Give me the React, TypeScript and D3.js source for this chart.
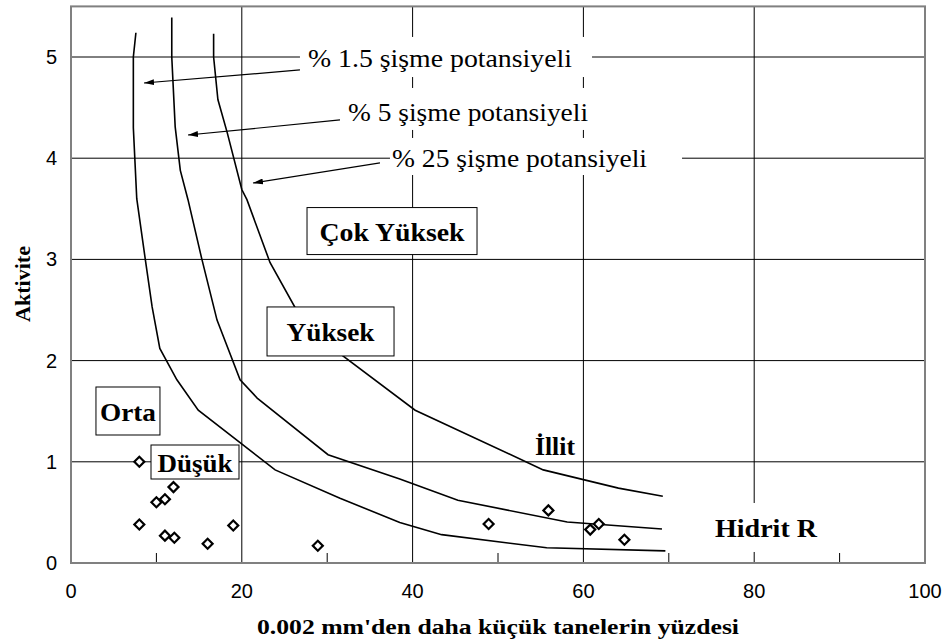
import React from 'react';
import * as d3 from 'd3';

// ---- axis ticks ----
const xTicks = [0, 20, 40, 60, 80, 100];
const xMinorTicks = [10, 30, 50, 70, 90];
const yTicks = [0, 1, 2, 3, 4, 5];

// ---- swell potential curves ----
const curve15X = [7.6, 7.3, 7.3, 7.7, 8.7, 9.5, 10.4, 12.4, 14.9, 23.9, 31.5, 38.5, 43.4, 55.7, 69.6];
const curve15Y = [5.24, 5.0, 4.3, 3.6, 3.0, 2.53, 2.12, 1.81, 1.51, 0.92, 0.64, 0.4, 0.28, 0.15, 0.12];

const curve5X = [11.8, 11.8, 12.2, 12.8, 13.7, 15.3, 17.1, 19.8, 21.8, 30.1, 38.5, 45.3, 58.1, 69.2];
const curve5Y = [5.39, 5.0, 4.31, 3.88, 3.59, 3.01, 2.4, 1.81, 1.63, 1.07, 0.83, 0.62, 0.405, 0.336];

const curve25X = [16.7, 16.7, 17.2, 18.3, 20.0, 20.6, 23.3, 26.2, 31.8, 40.3, 55.3, 64.1, 69.3];
const curve25Y = [5.23, 5.0, 4.58, 4.25, 3.69, 3.59, 2.97, 2.53, 2.05, 1.51, 0.92, 0.74, 0.66];

// ---- soil samples ----
const sampleX = [8, 12, 11, 10, 8, 11, 12.1, 16, 19, 28.9, 48.9, 55.9, 60.8, 61.8, 64.8];
const sampleY = [1.0, 0.75, 0.63, 0.6, 0.38, 0.27, 0.25, 0.19, 0.37, 0.17, 0.385, 0.52, 0.33, 0.385, 0.23];

// ---- texts ----
const xTitle = "0.002 mm'den daha küçük tanelerin yüzdesi";
const yTitle = 'Aktivite';
const calloutTexts = ['% 1.5 şişme potansiyeli', '% 5 şişme potansiyeli', '% 25 şişme potansiyeli'];
const regionTexts = ['Çok Yüksek', 'Yüksek', 'Orta', 'Düşük'];
const freeTexts = ['İllit', 'Hidrit R'];

// ---- annotation layout (data coords for anchors, px for sizes) ----
const calloutLayout = [
  { tx: 27.75, ty: 4.901, tl: 264, bx0: 26.81, bx1: 61.01, by0: 5.198, by1: 4.802, ax0: 26.81, ay0: 4.872, ax1: 8.55, ay1: 4.743 },
  { tx: 32.44, ty: 4.368, tl: 240, bx0: 31.5, bx1: 61.48, by0: 4.694, by1: 4.279, ax0: 31.5, ay0: 4.378, ax1: 13.7, ay1: 4.229 },
  { tx: 37.59, ty: 3.913, tl: 255, bx0: 37.35, bx1: 71.55, by0: 4.2, by1: 3.834, ax0: 36.18, ay0: 3.953, ax1: 21.31, ay1: 3.755 },
];
const regionLayout = [
  { cx: 37.59, cy: 3.28, w: 170, h: 47, tl: 145 },
  { cx: 30.39, cy: 2.288, w: 127, h: 49, tl: 88 },
  { cx: 6.67, cy: 1.502, w: 64, h: 48, tl: 56 },
  { cx: 14.52, cy: 0.998, w: 88, h: 34, tl: 75 },
];
const freeLayout = [
  { cx: 56.67, by: 1.067, tl: 40, box: null as null | { w: number; h: number; cy: number } },
  { cx: 81.38, by: 0.257, tl: 102, box: { w: 122, h: 49, cy: 0.351 } },
];

const W = 946;
const H = 644;
const SERIF = '"Liberation Serif", "Times New Roman", Times, serif';
const SANS = '"Liberation Sans", Arial, Helvetica, sans-serif';

export default function App() {
  const x = d3.scaleLinear().domain([0, 100]).range([71, 925]);
  const y = d3.scaleLinear().domain([0, 5.5]).range([563, 6.4]);

  const line = d3
    .line<[number, number]>()
    .x((d) => x(d[0]))
    .y((d) => y(d[1]));

  const curves = [
    d3.zip(curve15X, curve15Y) as [number, number][],
    d3.zip(curve5X, curve5Y) as [number, number][],
    d3.zip(curve25X, curve25Y) as [number, number][],
  ];
  const samples = d3.zip(sampleX, sampleY) as [number, number][];
  const diamond = d3.symbol().type(d3.symbolSquare).size(50)()!;

  const [x0, x1] = x.range();
  const [y0, y1] = y.range();

  return (
    <svg width={W} height={H} style={{ position: 'absolute', left: 0, top: 0, background: '#fff' }}>
      <defs>
        <marker id="arr" viewBox="0 0 10 6" refX="10" refY="3" markerWidth="10" markerHeight="6" markerUnits="userSpaceOnUse" orient="auto">
          <path d="M0,0 L10,3 L0,6 z" fill="#000" />
        </marker>
      </defs>
      <rect x={0} y={0} width={W} height={H} fill="#fff" />
      {/* gridlines */}
      {xTicks.slice(1, -1).map((t) => (
        <line key={'gx' + t} x1={x(t)} x2={x(t)} y1={y1} y2={y0} stroke="#000" strokeWidth={1} />
      ))}
      {yTicks.slice(1).map((t) => (
        <line key={'gy' + t} x1={x0} x2={x1} y1={y(t)} y2={y(t)} stroke="#000" strokeWidth={1} />
      ))}
      {xMinorTicks.map((t) => (
        <line key={'mx' + t} x1={x(t)} x2={x(t)} y1={y0} y2={y0 - 10} stroke="#000" strokeWidth={1} />
      ))}
      {/* curves */}
      {curves.map((c, i) => (
        <path key={'c' + i} d={line(c)!} fill="none" stroke="#000" strokeWidth={1.6} />
      ))}
      {/* samples */}
      {samples.map((d, i) => (
        <path
          key={'s' + i}
          d={diamond}
          transform={`translate(${x(d[0])},${y(d[1])}) rotate(45)`}
          fill="#fff"
          stroke="#000"
          strokeWidth={2.2}
        />
      ))}
      {/* region boxes */}
      {regionLayout.map((r, i) => (
        <g key={'r' + i}>
          <rect x={x(r.cx) - r.w / 2} y={y(r.cy) - r.h / 2} width={r.w} height={r.h} fill="#fff" stroke="#000" strokeWidth={1} />
          <text
            x={x(r.cx)}
            y={y(r.cy) + 10}
            textAnchor="middle"
            fontFamily={SERIF}
            fontWeight="bold"
            fontSize={26}
            textLength={r.tl}
            lengthAdjust="spacingAndGlyphs"
          >
            {regionTexts[i]}
          </text>
        </g>
      ))}
      {/* free labels */}
      {freeLayout.map((f, i) => (
        <g key={'f' + i}>
          {f.box && (
            <rect x={x(f.cx) - f.box.w / 2} y={y(f.box.cy) - f.box.h / 2} width={f.box.w} height={f.box.h} fill="#fff" />
          )}
          <text
            x={x(f.cx)}
            y={y(f.by)}
            textAnchor="middle"
            fontFamily={SERIF}
            fontWeight="bold"
            fontSize={26}
            textLength={f.tl}
            lengthAdjust="spacingAndGlyphs"
          >
            {freeTexts[i]}
          </text>
        </g>
      ))}
      {/* callouts */}
      {calloutLayout.map((c, i) => (
        <g key={'co' + i}>
          <rect x={x(c.bx0)} y={y(c.by0)} width={x(c.bx1) - x(c.bx0)} height={y(c.by1) - y(c.by0)} fill="#fff" />
          <text x={x(c.tx)} y={y(c.ty)} fontFamily={SERIF} fontSize={25} textLength={c.tl} lengthAdjust="spacingAndGlyphs">
            {calloutTexts[i]}
          </text>
          <line x1={x(c.ax0)} y1={y(c.ay0)} x2={x(c.ax1)} y2={y(c.ay1)} stroke="#000" strokeWidth={1.2} markerEnd="url(#arr)" />
        </g>
      ))}
      {/* frame */}
      <rect x={x0} y={y1} width={x1 - x0} height={y0 - y1} fill="none" stroke="#808080" strokeWidth={2} />
      {/* tick labels */}
      {xTicks.map((t) => (
        <text key={'xl' + t} x={x(t)} y={598} textAnchor="middle" fontFamily={SANS} fontSize={20}>
          {t}
        </text>
      ))}
      {yTicks.map((t) => (
        <text key={'yl' + t} x={57} y={y(t) + 7} textAnchor="end" fontFamily={SANS} fontSize={20}>
          {t}
        </text>
      ))}
      {/* axis titles */}
      <text
        x={498}
        y={634}
        textAnchor="middle"
        fontFamily={SERIF}
        fontWeight="bold"
        fontSize={20}
        textLength={482}
        lengthAdjust="spacingAndGlyphs"
      >
        {xTitle}
      </text>
      <text
        transform={`translate(30,${284}) rotate(-90)`}
        textAnchor="middle"
        fontFamily={SERIF}
        fontWeight="bold"
        fontSize={21}
        textLength={76}
        lengthAdjust="spacingAndGlyphs"
      >
        {yTitle}
      </text>
    </svg>
  );
}
